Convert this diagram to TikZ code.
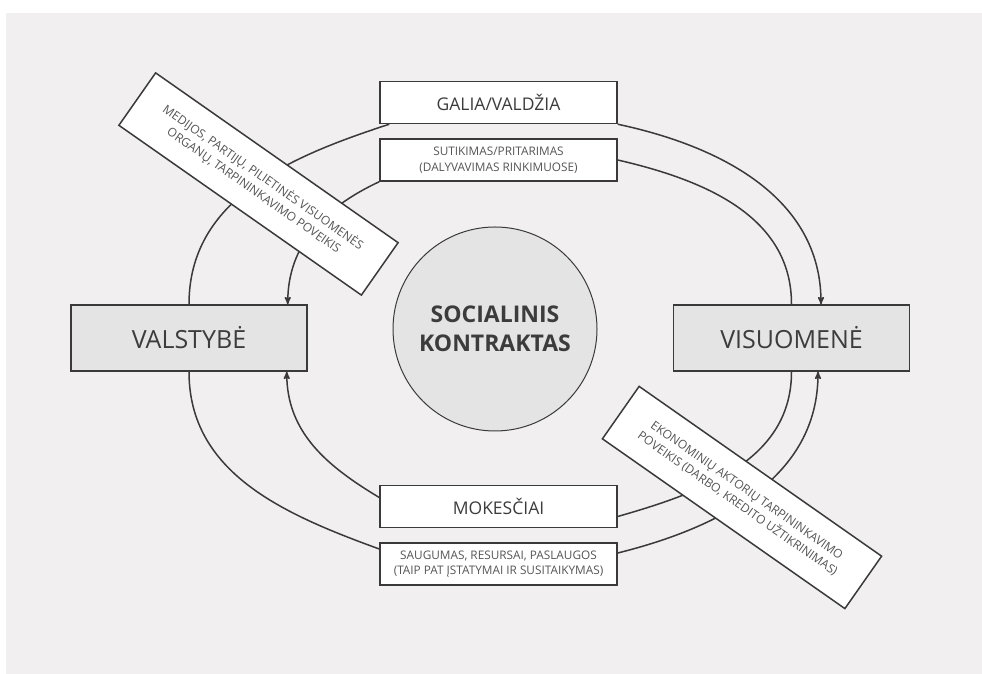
\documentclass[tikz,border=0pt]{standalone}
\usepackage{fontspec}
\setmainfont{Open Sans}
\usepackage{xcolor}
\usetikzlibrary{arrows,positioning,shapes}

\definecolor{bggray}{HTML}{F1EFF0}
\definecolor{boxgray}{HTML}{E4E4E4}
\definecolor{linegray}{HTML}{3A3A3A}
\definecolor{textdark}{HTML}{3C3C3C}
\definecolor{textlight}{HTML}{555555}

\begin{document}
\begin{tikzpicture}[->,>=stealth',x=1pt,y=1pt,line width=1.5pt,
                    color=linegray,text=textdark]
  \tikzstyle{actor}=[draw,fill=boxgray,minimum width=236pt,minimum height=66pt,
                     inner sep=0pt,font=\fontsize{25}{30}\selectfont]
  \tikzstyle{flow}=[draw,fill=white,minimum width=237pt,minimum height=42pt,
                    inner sep=0pt,align=center,font=\fontsize{17.5}{21}\selectfont]
  \tikzstyle{flownote}=[flow,text=textlight,font=\fontsize{11.8}{15.5}\selectfont]
  \tikzstyle{broker}=[draw,fill=white,rotate=-35,minimum width=296pt,
                      minimum height=64pt,inner sep=0pt,align=center,
                      text=textlight,font=\fontsize{12}{16}\selectfont]
  \tikzstyle{contract}=[draw,circle,fill=boxgray,minimum size=204pt,
                        line width=1pt,align=center,
                        font=\bfseries\fontsize{23}{29}\selectfont]

  \useasboundingbox (0,0) rectangle (982,674);
  \fill[bggray,-] (6,0) rectangle (982,661);

  \node[actor]    (val) at (189,336)     {VALSTYBĖ};
  \node[actor]    (vis) at (791.5,336)   {VISUOMENĖ};
  \node[contract] (soc) at (495,345)     {SOCIALINIS\\KONTRAKTAS};
  \node[flow]     (gal) at (498.5,571.5) {GALIA/VALDŽIA};
  \node[flownote] (sut) [below=14pt of gal]
                  {SUTIKIMAS/PRITARIMAS\\(DALYVAVIMAS RINKIMUOSE)};
  \node[flow]     (mok) at (498.5,167.5) {MOKESČIAI};
  \node[flownote] (sau) [below=14pt of mok]
                  {SAUGUMAS, RESURSAI, PASLAUGOS\\(TAIP PAT ĮSTATYMAI IR SUSITAIKYMAS)};

  \path (val.north)               edge[-,out=90,in=198]  ([xshift=10pt]gal.south west)
        (gal.south east)          edge[out=-12,in=90]    ([xshift=29.5pt]vis.north)
        (sut.east)                edge[-,out=-13,in=90]  (vis.north)
        (sut.south west)          edge[out=205,in=90]    ([xshift=-20pt]val.north east)
        ([yshift=-10pt]mok.east)  edge[-,out=16,in=-90]  (vis.south)
        ([yshift=9pt]mok.west)    edge[out=149,in=-90]   ([xshift=-21pt]val.south east)
        (val.south)               edge[-,out=-90,in=160] ([yshift=15pt]sau.west)
        ([yshift=11pt]sau.east)   edge[out=14,in=-90]    ([xshift=26.5pt]vis.south);

  \node[broker] (med) at (258.5,490)
        {MEDIJOS, PARTIJŲ, PILIETINĖS VISUOMENĖS\\ORGANŲ, TARPININKAVIMO POVEIKIS};
  \node[broker] (eko) at (742,176.5)
        {EKONOMINIŲ AKTORIŲ TARPININKAVIMO\\POVEIKIS (DARBO, KREDITO UŽTIKRINIMAS)};
\end{tikzpicture}
\end{document}
